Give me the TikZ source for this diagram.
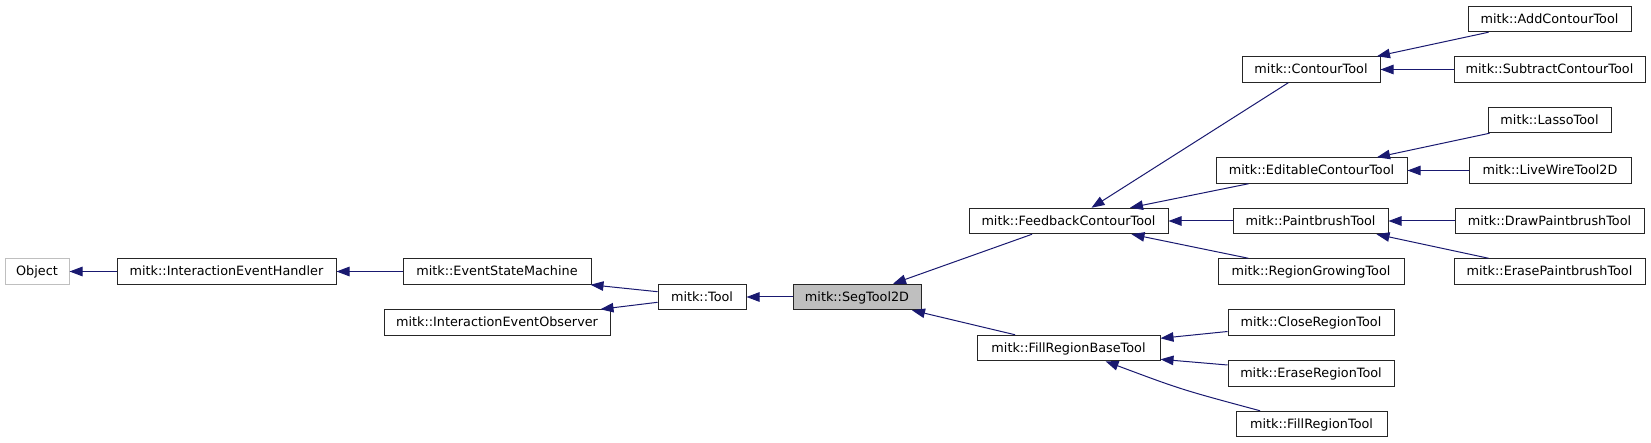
\documentclass[tikz,border=0pt]{standalone}
\usepackage{fontspec}
\setmainfont{DejaVu Sans}
\usetikzlibrary{arrows.meta,calc}
\definecolor{edgeblue}{HTML}{191970}
\definecolor{boxgray}{HTML}{BFBFBF}
\begin{document}
\begin{tikzpicture}[x=1pt,y=-1pt,
  cls/.style={draw=black!85, line width=1pt, rectangle, inner sep=0pt,
    minimum height=25.5pt, text height=10pt, text depth=1.6pt,
    font=\fontsize{12.8pt}{14pt}\selectfont, fill=white},
  nodoc/.style={cls, draw=boxgray},
  focus/.style={cls, fill=boxgray},
  inh/.style={draw=edgeblue, line width=1pt, -{Triangle[length=13pt,width=9.5pt]}}]
\useasboundingbox (0,0) rectangle (1651,443);

% column 1-5
\node[nodoc, minimum width=64pt]  (object) at (37,271.5) {Object};
\node[cls, minimum width=219pt]   (ieh) at (226.5,271.5) {mitk::InteractionEventHandler};
\node[cls, minimum width=188pt]   (esm) at (497,271.5) {mitk::EventStateMachine};
\node[cls, minimum width=226pt]   (ieo) at (497,322.5) {mitk::InteractionEventObserver};
\node[cls, minimum width=88pt]    (tool) at (702,297) {mitk::Tool};
\node[focus, minimum width=128pt] (seg) at (857,297) {mitk::SegTool2D};
% column 6
\node[cls, minimum width=199pt]   (feedback) at (1068.5,221) {mitk::FeedbackContourTool};
\node[cls, minimum width=183pt]   (frbt) at (1068.5,348) {mitk::FillRegionBaseTool};
% column 7
\node[cls, minimum width=138pt]   (contour) at (1311,69.5) {mitk::ContourTool};
\node[cls, minimum width=191pt]   (editable) at (1311.5,170.5) {mitk::EditableContourTool};
\node[cls, minimum width=155pt]   (paint) at (1310.5,221) {mitk::PaintbrushTool};
\node[cls, minimum width=186pt]   (rg) at (1311,271.5) {mitk::RegionGrowingTool};
\node[cls, minimum width=166pt]   (close) at (1311,322.5) {mitk::CloseRegionTool};
\node[cls, minimum width=166pt]   (erase) at (1311,373.5) {mitk::EraseRegionTool};
\node[cls, minimum width=151pt]   (fill) at (1311.5,424) {mitk::FillRegionTool};
% column 8
\node[cls, minimum width=163pt]   (add) at (1549.5,19) {mitk::AddContourTool};
\node[cls, minimum width=191pt]   (sub) at (1549.5,69.5) {mitk::SubtractContourTool};
\node[cls, minimum width=123pt]   (lasso) at (1549.5,120) {mitk::LassoTool};
\node[cls, minimum width=162pt]   (live) at (1550,170.5) {mitk::LiveWireTool2D};
\node[cls, minimum width=189pt]   (drawp) at (1549.5,221) {mitk::DrawPaintbrushTool};
\node[cls, minimum width=191pt]   (erasep) at (1549.5,271.5) {mitk::ErasePaintbrushTool};

% edges (child -> parent)
\draw[inh] (ieh.west) -- (object.east);
\draw[inh] (esm.west) -- (ieh.east);
\draw[inh] ($(tool.west)+(0,-5.3)$) -- ($(esm.south east)+(-1,0)$);
\draw[inh] ($(tool.west)+(0,5.3)$) -- ($(ieo.north east)+(-10,0)$);
\draw[inh] (seg.west) -- (tool.east);
\draw[inh] ($(feedback.south)+(-36.5,0)$) -- ($(seg.north)+(36,0)$);
\draw[inh] ($(frbt.north)+(-53.5,0)$) -- ($(seg.south)+(55,0)$);
\draw[inh] ($(contour.south)+(-22.7,0)$) -- ($(feedback.north)+(23,0)$);
\draw[inh] ($(editable.south)+(-63,0)$) -- ($(feedback.north)+(61.5,0)$);
\draw[inh] (paint.west) -- (feedback.east);
\draw[inh] ($(rg.north)+(-62.7,0)$) -- ($(feedback.south)+(63,0)$);
\draw[inh] ($(close.west)+(0,9)$) -- ($(frbt.east)+(0,-9.7)$);
\draw[inh] ($(erase.west)+(0,-8.5)$) -- ($(frbt.east)+(0,11.3)$);
\draw[inh] ($(fill.north)+(-51.5,0)$) .. controls (1181,389.5) .. ($(frbt.south)+(37,0)$);
\draw[inh] ($(add.south)+(-61,0)$) -- ($(contour.north)+(66,0)$);
\draw[inh] (sub.west) -- (contour.east);
\draw[inh] ($(lasso.south)+(-60,0)$) -- ($(editable.north)+(65.5,0)$);
\draw[inh] (live.west) -- (editable.east);
\draw[inh] (drawp.west) -- (paint.east);
\draw[inh] ($(erasep.north)+(-61,0)$) -- ($(paint.south)+(66,0)$);
\end{tikzpicture}
\end{document}
